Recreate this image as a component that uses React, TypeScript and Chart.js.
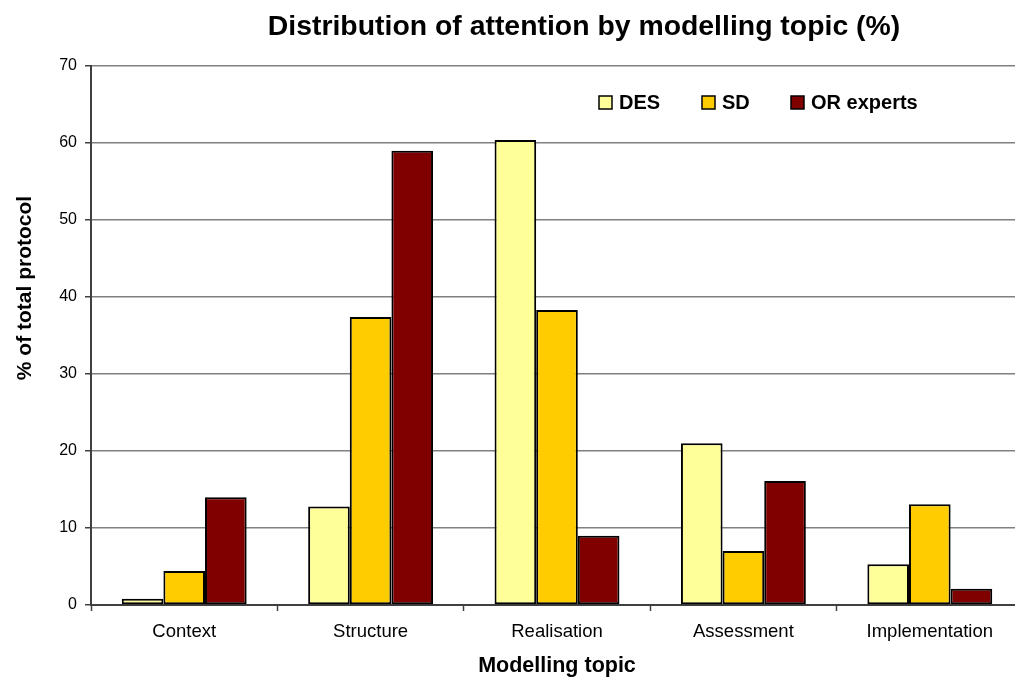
import React, { useEffect, useRef } from "react";
import { Chart, registerables } from "chart.js";

Chart.register(...registerables);

const categories = ["Context", "Structure", "Realisation", "Assessment", "Implementation"];
const seriesLabels = ["DES", "SD", "OR experts"];
const desValues = [0.8, 12.8, 60.4, 21.0, 5.3];
const sdValues = [4.4, 37.4, 38.3, 7.0, 13.1];
const orValues = [14.0, 59.0, 9.0, 16.1, 2.1];
const seriesColors = ["#FFFF99", "#FFCC00", "#800000"];
const yMin = 0;
const yMax = 70;
const yStep = 10;

const chartTitle = "Distribution of attention by modelling topic (%)";
const xTitle = "Modelling topic";
const yTitle = "% of total protocol";

const FONT = "'Liberation Sans', Arial, Helvetica, sans-serif";

const decorPlugin = {
  id: "decor",
  afterDraw(chart: any) {
    const ctx = chart.ctx as CanvasRenderingContext2D;
    ctx.save();
    ctx.fillStyle = "#000";
    // Title
    ctx.font = `bold 28.4px ${FONT}`;
    ctx.textAlign = "center";
    ctx.textBaseline = "alphabetic";
    ctx.fillText(chartTitle, 584, 35);

    // Y title
    ctx.save();
    ctx.translate(25, 288);
    ctx.rotate(-Math.PI / 2);
    ctx.font = `bold 21px ${FONT}`;
    ctx.textAlign = "center";
    ctx.textBaseline = "middle";
    ctx.fillText(yTitle, 0, 0);
    ctx.restore();

    // Legend
    const legendX = [599, 702, 791];
    ctx.font = `bold 20px ${FONT}`;
    ctx.textAlign = "left";
    ctx.textBaseline = "alphabetic";
    chart.data.datasets.forEach((ds: any, i: number) => {
      const x = legendX[i];
      ctx.fillStyle = ds.backgroundColor;
      ctx.fillRect(x, 96, 13, 13);
      ctx.strokeStyle = "#000";
      ctx.lineWidth = 1.5;
      ctx.strokeRect(x, 96, 13, 13);
      ctx.fillStyle = "#000";
      ctx.fillText(ds.label, x + 20, 109);
    });
    ctx.restore();
  },
};

export default function App() {
  const ref = useRef<HTMLCanvasElement | null>(null);

  useEffect(() => {
    if (!ref.current) return;
    const values = [desValues, sdValues, orValues];
    const chart = new Chart(ref.current, {
      type: "bar",
      data: {
        labels: categories,
        datasets: seriesLabels.map((label, i) => ({
          label,
          data: values[i],
          backgroundColor: seriesColors[i],
          borderColor: "#000",
          borderWidth: 2,
          borderSkipped: false,
          categoryPercentage: 0.67,
          barPercentage: 1.0,
        })),
      },
      options: {
        responsive: false,
        animation: false,
        layout: { padding: { top: 66, right: 7, left: 0, bottom: 0 } },
        plugins: {
          legend: { display: false },
          title: { display: false },
          tooltip: { enabled: false },
        },
        scales: {
          x: {
            afterFit(scale: any) {
              scale.height = 74;
            },
            grid: {
              display: true,
              drawOnChartArea: false,
              offset: true,
              tickLength: 6,
              tickColor: "#404040",
              tickWidth: 1.5,
            },
            border: { color: "#404040", width: 2 },
            ticks: {
              color: "#000",
              font: { family: FONT, size: 18.5 },
              padding: 10,
              maxRotation: 0,
            },
            title: {
              display: true,
              text: xTitle,
              color: "#000",
              font: { family: FONT, size: 21.5, weight: "bold", lineHeight: 1 },
              padding: { top: 0, bottom: 2 },
            },
          },
          y: {
            min: yMin,
            max: yMax,
            afterFit(scale: any) {
              scale.width = 91;
            },
            grid: {
              color: "#808080",
              lineWidth: 1.5,
              tickLength: 6,
              tickColor: "#404040",
              tickWidth: 1.5,
            },
            border: { color: "#404040", width: 2 },
            ticks: {
              stepSize: yStep,
              color: "#000",
              font: { family: FONT, size: 16 },
              padding: 8,
            },
          },
        },
      },
      plugins: [decorPlugin],
    });
    return () => chart.destroy();
  }, []);

  return (
    <div
      style={{
        position: "absolute",
        left: 0,
        top: 0,
        width: 1015,
        height: 679,
        overflow: "hidden",
        background: "#fff",
      }}
    >
      <canvas ref={ref} width={1030} height={679} style={{ width: 1030, height: 679, display: "block" }} />
    </div>
  );
}
